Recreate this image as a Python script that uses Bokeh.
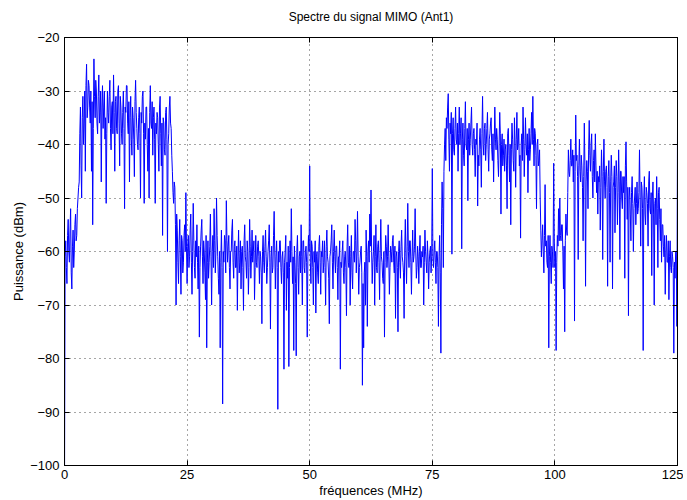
import numpy as np
from bokeh.plotting import figure
from bokeh.models import Range1d, LinearAxis, FixedTicker, CustomJSTickFormatter, ColumnDataSource, Title
from bokeh.embed import file_html
from bokeh.resources import INLINE

# Power spectrum, 8 samples per MHz (0.125 MHz step), 0 .. 125 MHz
power_dbm = [
    -105, -61, -58, -63, -66, -57, -54, -60,        # 0
    -62, -56, -52, -64, -67, -59, -56, -63,         # 1
    -60, -55, -53, -58, -57, -52, -50, -48,         # 2
    -47, -38, -33, -44, -50, -35, -31, -40,         # 3
    -36, -30, -45, -29, -25, -35, -33, -28,         # 4
    -29, -33, -36, -30, -45, -32, -55, -37,         # 5
    -24, -31, -35, -28, -30, -36, -38, -31,         # 6
    -27, -36, -34, -30, -47, -33, -29, -37,         # 7
    -33, -30, -39, -35, -51, -38, -30, -34,         # 8
    -36, -31, -28, -37, -41, -33, -32, -38,         # 9
    -27, -34, -45, -32, -31, -37, -38, -30,         # 10
    -29, -36, -44, -31, -33, -38, -40, -34,         # 11
    -30, -37, -52, -33, -34, -29, -29, -36,         # 12
    -38, -32, -47, -35, -31, -39, -42, -33,         # 13
    -35, -39, -46, -32, -28, -34, -37, -40,         # 14
    -41, -35, -33, -38, -50, -34, -36, -31,         # 15
    -30, -38, -51, -36, -39, -33, -33, -40,         # 16
    -45, -37, -50, -34, -29, -36, -37, -32,         # 17
    -42, -35, -33, -39, -51, -36, -38, -34,         # 18
    -35, -40, -45, -33, -31, -38, -44, -36,         # 19
    -57, -35, -36, -41, -42, -34, -33, -39,         # 20
    -60, -40, -38, -33, -31, -36, -37, -42,         # 21
    -45, -49, -51, -47, -48, -55, -70, -53,         # 22
    -56, -62, -66, -58, -54, -61, -68, -57,         # 23
    -58, -64, -62, -57, -55, -60, -49, -59,         # 24
    -66, -59, -57, -63, -61, -56, -53, -62,         # 25
    -68, -60, -51, -58, -63, -65, -58, -61,         # 26
    -55, -62, -67, -59, -76, -63, -59, -56,         # 27
    -54, -61, -66, -58, -60, -64, -69, -57,         # 28
    -78, -62, -58, -65, -62, -59, -53, -61,         # 29
    -70, -60, -57, -63, -52, -58, -64, -60,         # 30
    -50, -57, -61, -65, -68, -60, -78, -62,         # 31
    -56, -63, -88.5, -60, -62, -57, -58, -64,       # 32
    -50.5, -58, -62, -59, -57, -63, -67, -60,       # 33
    -60, -56, -54, -62, -65, -59, -58, -63,         # 34
    -63, -59, -71, -61, -56, -64, -62, -58,         # 35
    -67, -60, -59, -63, -71, -58, -55, -61,         # 36
    -62, -65, -58, -60, -68, -63, -54, -59,         # 37
    -65, -61, -56, -62, -60, -58, -69, -63,         # 38
    -57, -62, -63, -59, -58, -61, -66, -60,         # 39
    -61, -64, -73.5, -60, -57, -62, -64, -59,       # 40
    -56, -61, -66, -63, -60, -58, -55, -62,         # 41
    -74.5, -61, -59, -64, -63, -57, -52.5, -60,     # 42
    -67, -61, -58, -63, -89.5, -60, -62, -58,       # 43
    -58, -63, -66, -61, -60, -64, -82, -62,         # 44
    -60, -57, -71, -62, -65, -59, -81.5, -63,       # 45
    -58, -62, -52, -60, -66, -61, -78.5, -59,       # 46
    -62, -66, -79.5, -60, -57, -63, -68, -61,       # 47
    -60, -64, -55, -61, -70, -58, -58, -63,         # 48
    -64, -60, -59, -62, -76, -61, -57, -60,         # 49
    -44, -62, -66, -58, -59, -63, -70, -60,         # 50
    -62, -58, -71.5, -61, -60, -64, -66, -59,       # 51
    -57, -62, -68, -60, -61, -58, -64, -62,         # 52
    -58, -63, -70, -59, -56, -61, -62, -65,         # 53
    -73.5, -61, -60, -58, -55, -62, -67, -60,       # 54
    -56, -61, -64, -59, -59, -63, -69, -61,         # 55
    -61, -58, -82, -62, -63, -60, -58, -64,         # 56
    -66, -61, -60, -63, -72, -59, -55, -62,         # 57
    -63, -59, -70, -61, -57, -64, -67, -60,         # 58
    -60, -62, -54, -58, -64, -60, -52.5, -61,       # 59
    -68, -63, -62, -60, -59, -64, -85, -66,         # 60
    -78, -64, -62, -70, -56, -61, -74, -60,         # 61
    -58, -62, -53, -59, -48.5, -60, -66, -62,       # 62
    -60, -57, -70, -61, -55, -63, -64, -59,         # 63
    -58, -62, -69, -60, -54, -61, -62, -65,         # 64
    -66, -60, -76, -62, -57, -59, -63, -61,         # 65
    -55, -61, -68, -63, -59, -60, -62, -58,         # 66
    -57, -62, -64, -59, -72.5, -61, -60, -63,       # 67
    -75, -60, -58, -62, -65, -59, -56, -61,         # 68
    -62, -64, -72.5, -60, -54, -61, -66, -59,       # 69
    -51, -60, -63, -58, -58, -62, -68, -61,         # 70
    -56, -62, -61, -59, -52, -60, -65, -63,         # 71
    -59, -61, -66, -60, -57, -63, -63, -60,         # 72
    -61, -59, -70, -62, -56, -60, -62, -64,         # 73
    -58, -61, -67, -62, -60, -59, -64, -61,         # 74
    -44.5, -61, -63, -60, -58, -62, -66, -60,       # 75
    -60, -63, -74, -61, -57, -64, -79, -55,         # 76
    -47, -52, -63, -45, -40, -37, -43, -35,         # 77
    -37, -33, -30.5, -39, -45, -36, -38, -34,       # 78
    -60.5, -38, -35, -41, -42, -37, -33, -39,       # 79
    -40, -36, -45, -38, -33, -40, -38, -35,         # 80
    -59.5, -39, -36, -42, -44, -37, -32, -40,       # 81
    -41, -37, -50.5, -39, -36, -42, -39, -36,       # 82
    -33, -40, -42, -38, -37, -41, -46, -39,         # 83
    -40, -36, -51.5, -42, -44, -39, -37, -41,       # 84
    -48, -38, -31, -40, -42, -37, -36, -43,         # 85
    -40, -37, -34, -41, -45, -39, -38, -36,         # 86
    -35, -41, -43, -38, -47, -40, -33, -39,         # 87
    -41, -37, -39, -43, -46, -40, -34, -38,         # 88
    -53, -40, -38, -44, -42, -39, -45, -41,         # 89
    -40, -44, -52, -38, -37, -42, -47, -40,         # 90
    -55, -41, -36, -39, -43, -45, -35, -40,         # 91
    -48, -39, -34, -41, -40, -37, -44, -42,         # 92
    -57.5, -40, -38, -43, -33, -39, -46, -41,       # 93
    -35, -40, -42, -38, -49, -41, -37, -43,         # 94
    -41, -38, -34, -40, -31, -39, -44, -37,         # 95
    -38, -42, -52, -40, -39, -44, -43, -41,         # 96
    -50, -56, -61, -58, -55, -60, -64, -57,         # 97
    -47.5, -59, -58, -62, -63, -57, -78, -61,       # 98
    -57, -62, -66, -59, -60, -63, -43.5, -58,       # 99
    -63, -60, -78.5, -62, -57, -59, -52, -58,       # 100
    -50, -57, -58, -55, -55, -60, -67, -59,         # 101
    -75, -58, -53, -56, -57, -49, -41, -45,         # 102
    -46, -43, -39, -44, -44, -41, -47, -42,         # 103
    -73, -45, -34.5, -43, -42, -46, -61.5, -44,     # 104
    -39, -45, -47, -42, -44, -48, -58, -46,         # 105
    -36, -44, -66.5, -47, -43, -45, -52, -41,       # 106
    -35.5, -42, -45, -40, -38, -46, -50, -43,       # 107
    -41, -47, -38, -44, -49, -45, -53, -46,         # 108
    -47, -44, -56, -48, -41, -46, -61.5, -45,       # 109
    -39, -47, -50, -45, -44, -48, -66.5, -46,       # 110
    -43, -49, -62, -47, -42, -46, -67, -48,         # 111
    -47, -44, -56.5, -48, -43, -46, -55, -49,       # 112
    -41, -47, -61.5, -45, -45, -50, -52, -46,       # 113
    -49, -46, -65, -44, -39.5, -47, -54, -48,       # 114
    -72, -50, -48, -53, -58, -49, -46, -51,         # 115
    -60, -52, -50, -48, -55, -51, -47, -53,         # 116
    -52, -49, -41, -50, -59, -47, -48, -52,         # 117
    -78.5, -50, -46, -53, -55, -48, -49, -51,       # 118
    -59, -47, -45, -52, -53, -49, -64.5, -50,       # 119
    -47, -53, -70, -51, -50, -55, -46, -52,         # 120
    -63, -49, -48, -54, -58, -52, -62, -55,         # 121
    -55, -59, -61, -57, -68, -60, -57, -62,         # 122
    -62, -58, -69, -61, -58, -63, -64, -60,         # 123
    -61, -63, -79, -62, -65, -60, -60, -74,         # 124
    -36.5,                                          # 125
]
step_mhz = 0.125
freq_mhz = [i * step_mhz for i in range(len(power_dbm))]

x_ticks = [0, 25, 50, 75, 100, 125]
y_ticks = [-100, -90, -80, -70, -60, -50, -40, -30, -20]

title_text = "Spectre du signal MIMO (Ant1)"
x_label = "fréquences (MHz)"
y_label = "Puissance (dBm)"

FONT = "Liberation Sans"

p = figure(
    width=683, height=500,
    x_range=Range1d(0, 125), y_range=Range1d(-100, -20),
    output_backend="svg", toolbar_location=None,
    min_border_left=64, min_border_right=6, min_border_top=37, min_border_bottom=34,
    title=None,
)

p.background_fill_color = "#ffffff"
p.border_fill_color = "#ffffff"
p.outline_line_color = "#000000"
p.outline_line_width = 1

minus_fmt = CustomJSTickFormatter(code="return tick < 0 ? '\u2212' + Math.abs(tick) : '' + tick;")

p.xaxis.ticker = FixedTicker(ticks=x_ticks)
p.yaxis.ticker = FixedTicker(ticks=y_ticks)
p.yaxis.formatter = minus_fmt
for ax in (p.xaxis[0], p.yaxis[0]):
    ax.major_tick_in = 5
    ax.major_tick_out = 0
    ax.minor_tick_in = 0
    ax.minor_tick_out = 0
    ax.axis_line_color = "#000000"
    ax.major_tick_line_color = "#000000"
    ax.major_label_text_font = FONT
    ax.major_label_text_font_size = "13px"
    ax.major_label_text_color = "#000000"
    ax.axis_label_text_font = FONT
    ax.axis_label_text_font_size = "13px"
    ax.axis_label_text_font_style = "normal"
    ax.axis_label_text_color = "#000000"
p.xaxis.major_label_standoff = 4
p.xaxis.axis_label_standoff = 1
p.yaxis.major_label_standoff = 5
p.yaxis.axis_label_standoff = 1
p.xaxis.axis_label = x_label
p.yaxis.axis_label = y_label

for loc, tk in (("right", y_ticks), ("above", x_ticks)):
    ax2 = LinearAxis(ticker=FixedTicker(ticks=tk))
    ax2.major_tick_in = 5
    ax2.major_tick_out = 0
    ax2.minor_tick_in = 0
    ax2.minor_tick_out = 0
    ax2.major_label_text_font_size = "0px"
    ax2.major_label_standoff = 0
    ax2.axis_line_color = "#000000"
    ax2.major_tick_line_color = "#000000"
    p.add_layout(ax2, loc)

# small spacer between the top axis and the title
p.add_layout(Title(text=" ", text_font_size="7px", text_font=FONT, standoff=0), "above")
p.add_layout(Title(text=title_text, align="center", text_font=FONT, text_font_size="12px",
                   text_font_style="normal", text_color="#000000"), "above")

for g in (p.xgrid[0], p.ygrid[0]):
    g.grid_line_color = "#000000"
    g.grid_line_dash = "1 4"
    g.grid_line_width = 1
    g.grid_line_alpha = 0.7
p.xgrid.ticker = FixedTicker(ticks=x_ticks)
p.ygrid.ticker = FixedTicker(ticks=y_ticks)

src = ColumnDataSource(data=dict(freq=freq_mhz, power=power_dbm))
p.line("freq", "power", source=src, line_color="#0000ff", line_width=1)

open("out.html", "w").write(file_html(p, INLINE))
